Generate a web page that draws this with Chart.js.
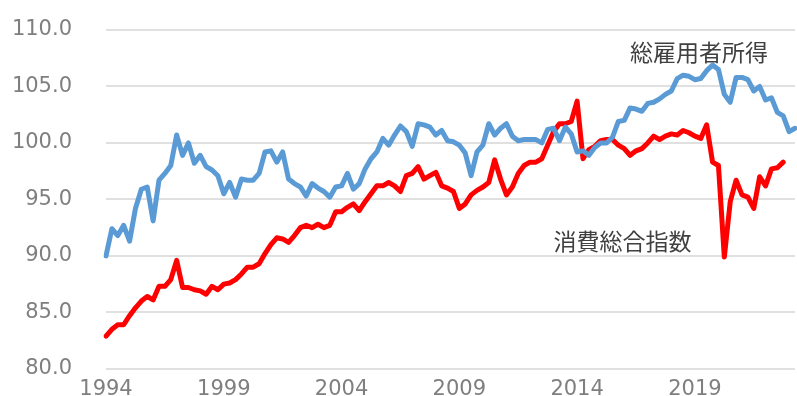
<!DOCTYPE html>
<html>
<head>
<meta charset="utf-8">
<script src="https://cdn.jsdelivr.net/npm/chart.js@4.4.0/dist/chart.umd.min.js"></script>
<style>
	html, body { margin:0; padding:0; background:#fff; overflow:hidden; }
	#wrap { position:relative; width:797px; height:410px; }
</style>
</head>
<body>
<div id="wrap"><canvas id="lineChart"></canvas></div>
<script>
// 四半期ラベル 1994Q1 ~ 2023Q2
var startYear = 1994;
var quarterCount = 118;
var labels = [];
for (var i = 0; i < quarterCount; i++) {
	labels.push((startYear + Math.floor(i / 4)) + 'Q' + (i % 4 + 1));
}

// x軸に表示する年
var tickYears = ['1994', '1999', '2004', '2009', '2014', '2019'];

// y軸の目盛り
var yMin = 80;
var yMax = 110;
var yStep = 5;

// 総雇用者所得
var incomeValues = [
	90.0, 92.4, 91.8, 92.7, 91.3, 94.2, 95.9, 96.1, 93.1, 96.7,
	97.3, 98.0, 100.7, 98.9, 100.0, 98.2, 98.9, 97.9, 97.6, 97.1,
	95.5, 96.5, 95.2, 96.8, 96.7, 96.7, 97.3, 99.2, 99.3, 98.3,
	99.2, 96.8, 96.4, 96.1, 95.3, 96.4, 96.0, 95.7, 95.2, 96.1,
	96.2, 97.3, 95.9, 96.4, 97.7, 98.6, 99.2, 100.4, 99.8, 100.7,
	101.5, 101.0, 99.7, 101.7, 101.6, 101.4, 100.7, 101.1, 100.2, 100.1,
	99.8, 99.1, 97.1, 99.2, 99.8, 101.7, 100.7, 101.3, 101.7, 100.6,
	100.2, 100.3, 100.3, 100.3, 100.0, 101.2, 101.3, 100.2, 101.4, 100.8,
	99.2, 99.3, 98.9, 99.6, 100.0, 100.0, 100.5, 101.9, 102.0, 103.1,
	103.0, 102.8, 103.5, 103.6, 103.9, 104.3, 104.6, 105.7, 106.0, 105.9,
	105.6, 105.7, 106.4, 106.9, 106.5, 104.3, 103.6, 105.8, 105.8, 105.6,
	104.6, 105.0, 103.8, 104.0, 102.7, 102.4, 101.0, 101.3
];

// 消費総合指数
var consumptionValues = [
	82.9, 83.5, 83.9, 83.9, 84.7, 85.4, 86.0, 86.4, 86.1, 87.3,
	87.3, 87.9, 89.6, 87.2, 87.2, 87.0, 86.9, 86.6, 87.3, 87.0,
	87.5, 87.6, 87.9, 88.4, 89.0, 89.0, 89.3, 90.2, 91.0, 91.6,
	91.5, 91.2, 91.8, 92.5, 92.7, 92.5, 92.8, 92.5, 92.7, 93.9,
	93.9, 94.3, 94.6, 94.0, 94.8, 95.5, 96.2, 96.2, 96.5, 96.2,
	95.7, 97.1, 97.3, 97.9, 96.8, 97.1, 97.4, 96.2, 96.0, 95.7,
	94.2, 94.6, 95.4, 95.8, 96.1, 96.5, 98.5, 96.8, 95.4, 96.1,
	97.3, 98.0, 98.3, 98.3, 98.6, 99.8, 101.0, 101.7, 101.7, 101.9,
	103.7, 98.6, 99.4, 99.7, 100.2, 100.3, 100.3, 99.8, 99.5, 98.9,
	99.3, 99.5, 100.0, 100.6, 100.3, 100.6, 100.8, 100.7, 101.1, 100.9,
	100.6, 100.4, 101.6, 98.3, 98.0, 89.9, 94.8, 96.7, 95.4, 95.2,
	94.2, 97.0, 96.2, 97.7, 97.8, 98.3, null, null
];

// 系列名ラベル (位置は四半期番号と値で指定)
var seriesNotes = [
	{ text: '総雇用者所得', idx: 89, val: 108.0 },
	{ text: '消費総合指数', idx: 76, val: 91.3 }
];

var numFont = 'DejaVu Sans';
var jpFont = '"Noto Sans CJK JP"';

var notePlugin = {
	id: 'seriesNotes',
	afterDatasetsDraw: function(chart) {
		var ctx = chart.ctx;
		var xs = chart.scales.x, ys = chart.scales.y;
		ctx.save();
		ctx.font = '23px ' + jpFont;
		ctx.fillStyle = '#404040';
		ctx.textAlign = 'left';
		ctx.textBaseline = 'middle';
		seriesNotes.forEach(function(n) {
			ctx.fillText(n.text, xs.getPixelForValue(n.idx), ys.getPixelForValue(n.val));
		});
		ctx.restore();
	}
};

var config = {
	type: 'line',
	data: {
		labels: labels,
		datasets: [
			{
				label: '総雇用者所得',
				data: incomeValues,
				borderColor: '#5b9bd5',
				borderWidth: 5,
				pointRadius: 0,
				tension: 0,
				borderJoinStyle: 'round',
				borderCapStyle: 'round'
			},
			{
				label: '消費総合指数',
				data: consumptionValues,
				borderColor: '#ff0000',
				borderWidth: 5,
				pointRadius: 0,
				tension: 0,
				borderJoinStyle: 'round',
				borderCapStyle: 'round'
			}
		]
	},
	options: {
		responsive: true,
		maintainAspectRatio: false,
		animation: false,
		layout: { padding: { left: 12, right: 2, top: 30, bottom: 0 } },
		plugins: {
			legend: { display: false },
			tooltip: { enabled: false }
		},
		scales: {
			x: {
				offset: false,
				grid: { display: false, drawTicks: false },
				border: { display: false },
				ticks: {
					autoSkip: false,
					maxRotation: 0,
					padding: 8,
					color: '#7f7f7f',
					font: { family: numFont, size: 21 },
					callback: function(v, i) {
						var lb = labels[i];
						if (lb.slice(-2) === 'Q1' && tickYears.indexOf(lb.slice(0, 4)) >= 0) {
							return lb.slice(0, 4);
						}
						return null;
					}
				}
			},
			y: {
				min: yMin,
				max: yMax,
				// ラベルと軸の間隔だけ取り、上下の余白は layout.padding に任せる
				afterFit: function(axis) {
					axis.width = 94;
					axis.paddingTop = 0;
					axis.paddingBottom = 0;
				},
				grid: { color: '#e0e0e0', lineWidth: 2, drawTicks: false },
				border: { display: false },
				ticks: {
					stepSize: yStep,
					padding: 34,
					color: '#7f7f7f',
					font: { family: numFont, size: 21 },
					callback: function(v) { return v.toFixed(1); }
				}
			}
		}
	},
	plugins: [notePlugin]
};

var lineChart = new Chart(document.getElementById('lineChart'), config);
</script>
</body>
</html>
